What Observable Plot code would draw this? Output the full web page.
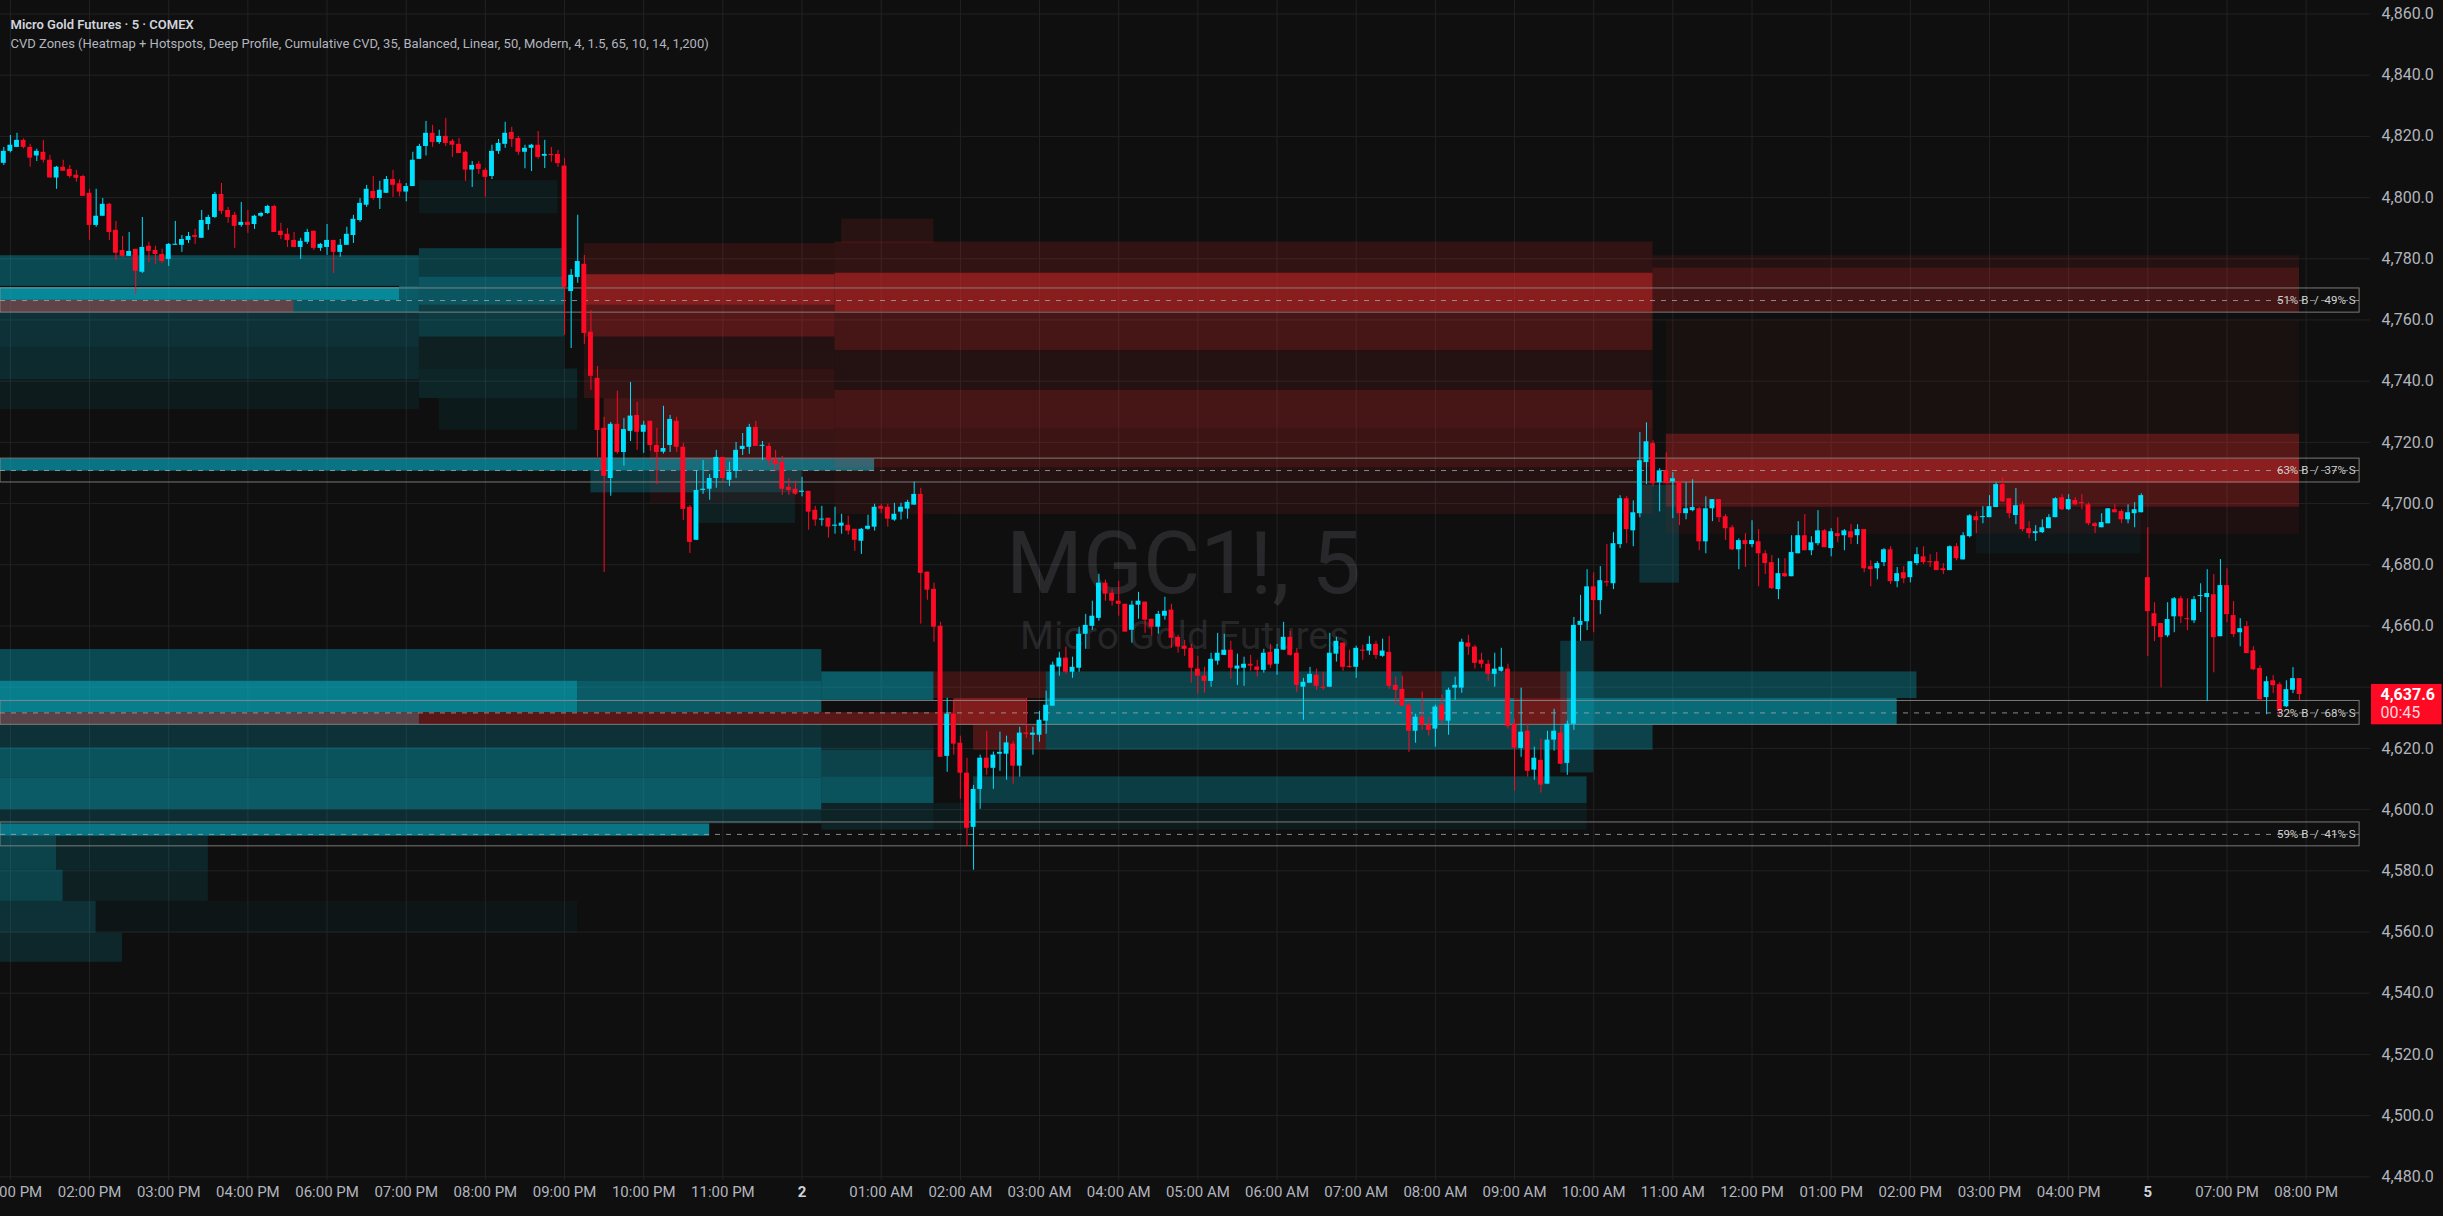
<!DOCTYPE html>
<html>
<head>
<meta charset="utf-8">
<script src="https://cdn.jsdelivr.net/npm/d3@7"></script>
<script src="https://cdn.jsdelivr.net/npm/@observablehq/plot@0.6"></script>
<style>
  html, body { margin: 0; padding: 0; background: #0f0f0f; overflow: hidden; }
  #chart svg { display: block; }
</style>
</head>
<body>
<div id="chart"></div>
<script>
// MGC1! 5-minute bars, indexed by bar number (session breaks already removed)
const open = [
  4811.2, 4815.1, 4816.4, 4818.7, 4816.4, 4813.6, 4814.8, 4812.2, 4806.4, 4809.9,
  4809.2, 4807.3, 4806.9, 4801.4, 4790.9, 4793.9, 4797.8, 4789.3, 4782.7, 4780.8,
  4783.1, 4775.6, 4784.1, 4782.7, 4781.4, 4779.8, 4784.4, 4784.4, 4786.0, 4787.6,
  4786.7, 4791.2, 4793.5, 4801.0, 4795.8, 4794.2, 4790.9, 4791.9, 4791.2, 4793.9,
  4794.8, 4797.1, 4789.0, 4788.0, 4786.0, 4783.7, 4785.4, 4789.0, 4783.4, 4783.7,
  4786.0, 4782.1, 4784.4, 4787.6, 4792.5, 4797.5, 4802.0, 4799.7, 4801.4, 4805.9,
  4804.5, 4801.8, 4803.6, 4812.5, 4816.7, 4821.0, 4818.0, 4820.0, 4818.4, 4817.4,
  4814.8, 4809.0, 4810.9, 4808.9, 4806.9, 4815.1, 4817.4, 4821.3, 4819.3, 4814.8,
  4816.1, 4817.1, 4813.5, 4814.1, 4814.1, 4810.3, 4769.3, 4773.9, 4778.2, 4756.0,
  4740.9, 4724.6, 4708.2, 4725.9, 4716.7, 4723.6, 4728.8, 4723.3, 4726.9, 4719.0,
  4716.8, 4719.0, 4726.9, 4718.4, 4698.8, 4688.0, 4704.3, 4704.7, 4708.2, 4715.1,
  4707.6, 4710.5, 4717.7, 4718.4, 4724.9, 4718.7, 4718.7, 4714.4, 4713.5, 4705.3,
  4704.7, 4703.7, 4704.0, 4697.8, 4694.6, 4695.2, 4692.6, 4692.6, 4692.9, 4691.6,
  4687.7, 4691.6, 4692.3, 4699.1, 4698.8, 4694.6, 4697.2, 4698.2, 4699.5, 4703.0,
  4677.6, 4672.0, 4659.9, 4617.4, 4631.2, 4621.7, 4611.9, 4594.2, 4606.6, 4616.8,
  4613.5, 4618.1, 4618.1, 4621.4, 4614.2, 4625.0, 4624.3, 4624.3, 4628.9, 4633.8,
  4646.6, 4649.5, 4644.9, 4646.2, 4657.3, 4659.9, 4662.5, 4674.0, 4670.7, 4668.1,
  4667.1, 4658.6, 4666.8, 4667.8, 4662.2, 4659.6, 4663.2, 4665.2, 4656.3, 4653.4,
  4652.7, 4645.9, 4643.6, 4641.9, 4648.5, 4650.4, 4652.1, 4645.9, 4646.2, 4647.5,
  4646.6, 4645.5, 4651.4, 4647.5, 4652.1, 4656.3, 4651.1, 4640.0, 4641.3, 4643.9,
  4640.0, 4640.0, 4650.8, 4654.4, 4646.8, 4646.5, 4652.1, 4651.8, 4654.0, 4650.1,
  4651.4, 4640.6, 4639.3, 4634.1, 4625.6, 4630.2, 4627.6, 4626.3, 4634.1, 4628.9,
  4639.7, 4639.7, 4654.4, 4653.1, 4648.8, 4647.5, 4644.2, 4645.2, 4645.9, 4627.9,
  4620.0, 4625.6, 4612.9, 4616.1, 4608.3, 4622.7, 4625.0, 4615.1, 4627.9, 4660.2,
  4661.4, 4672.8, 4668.3, 4674.5, 4673.8, 4686.6, 4701.6, 4691.1, 4696.7, 4713.4,
  4719.6, 4706.8, 4710.7, 4707.1, 4707.1, 4696.7, 4697.7, 4698.3, 4687.5, 4698.3,
  4701.3, 4695.7, 4692.1, 4684.9, 4687.9, 4686.6, 4687.5, 4683.6, 4680.7, 4671.9,
  4677.1, 4676.1, 4683.6, 4689.5, 4684.6, 4686.9, 4691.1, 4685.3, 4690.2, 4689.5,
  4690.8, 4689.5, 4691.5, 4679.4, 4678.7, 4680.7, 4684.9, 4674.5, 4677.4, 4675.8,
  4680.4, 4682.6, 4681.0, 4681.0, 4678.7, 4678.1, 4685.9, 4681.6, 4689.2, 4695.7,
  4695.4, 4695.4, 4698.7, 4706.2, 4701.6, 4696.1, 4699.6, 4691.8, 4690.2, 4690.5,
  4691.8, 4695.4, 4701.9, 4698.0, 4701.0, 4700.3, 4699.6, 4693.4, 4692.1, 4693.4,
  4698.0, 4697.4, 4694.7, 4696.7, 4697.0, 4675.8, 4664.0, 4660.8, 4656.8, 4663.0,
  4668.9, 4662.4, 4661.7, 4669.6, 4669.3, 4670.2, 4656.5, 4673.2, 4663.4, 4657.8,
  4659.8, 4651.9, 4646.1, 4636.6, 4642.1, 4640.8, 4633.6, 4639.0, 4642.8
];
const high = [
  4816.4, 4820.3, 4821.0, 4819.2, 4817.4, 4815.8, 4818.7, 4813.8, 4810.2, 4812.2,
  4810.5, 4808.9, 4807.3, 4802.7, 4802.7, 4799.7, 4798.1, 4792.2, 4787.3, 4788.6,
  4783.1, 4793.5, 4785.4, 4784.1, 4783.1, 4785.0, 4792.2, 4787.6, 4788.6, 4789.6,
  4795.8, 4794.2, 4801.7, 4804.6, 4796.8, 4795.2, 4798.4, 4795.8, 4794.2, 4795.2,
  4797.5, 4797.5, 4791.6, 4789.9, 4788.6, 4786.7, 4789.6, 4789.0, 4785.0, 4791.2,
  4786.0, 4786.3, 4790.3, 4794.2, 4799.7, 4804.0, 4806.9, 4805.3, 4806.9, 4808.9,
  4805.8, 4804.6, 4814.8, 4817.4, 4824.9, 4823.6, 4822.0, 4825.9, 4819.0, 4819.3,
  4815.1, 4811.8, 4811.8, 4809.6, 4817.1, 4819.0, 4824.6, 4823.0, 4820.0, 4817.1,
  4817.4, 4821.6, 4818.7, 4816.4, 4815.4, 4812.8, 4776.5, 4794.2, 4781.1, 4763.1,
  4744.8, 4728.2, 4726.5, 4736.7, 4727.8, 4739.6, 4733.1, 4726.9, 4726.9, 4724.6,
  4731.8, 4728.8, 4728.2, 4719.7, 4699.4, 4710.8, 4714.1, 4709.5, 4717.4, 4715.1,
  4713.5, 4720.0, 4722.9, 4725.9, 4726.9, 4720.3, 4719.7, 4717.4, 4715.4, 4708.2,
  4707.3, 4708.6, 4704.0, 4699.1, 4699.1, 4695.2, 4698.8, 4696.5, 4695.9, 4691.6,
  4691.9, 4696.2, 4699.8, 4699.8, 4699.8, 4700.1, 4700.1, 4701.1, 4707.0, 4705.0,
  4677.6, 4674.0, 4661.2, 4636.4, 4635.4, 4624.0, 4616.8, 4607.9, 4617.8, 4625.6,
  4618.8, 4625.3, 4624.0, 4622.3, 4626.9, 4636.4, 4626.9, 4632.1, 4638.7, 4648.2,
  4651.4, 4653.1, 4649.8, 4659.6, 4663.8, 4668.1, 4676.9, 4675.0, 4672.0, 4674.6,
  4667.1, 4668.1, 4671.0, 4667.8, 4662.2, 4664.8, 4669.4, 4667.1, 4657.0, 4655.3,
  4654.0, 4650.1, 4646.5, 4651.1, 4657.6, 4657.3, 4655.0, 4650.8, 4649.8, 4650.4,
  4648.8, 4652.4, 4654.0, 4654.0, 4661.2, 4658.3, 4652.7, 4642.9, 4646.5, 4645.9,
  4644.9, 4657.6, 4656.3, 4654.4, 4652.1, 4653.4, 4653.7, 4656.6, 4655.0, 4655.7,
  4656.6, 4643.3, 4643.6, 4634.8, 4631.2, 4638.4, 4630.2, 4634.1, 4637.4, 4639.7,
  4643.3, 4655.7, 4657.0, 4653.7, 4651.1, 4648.8, 4651.1, 4652.7, 4647.5, 4629.5,
  4639.7, 4627.9, 4620.4, 4623.0, 4625.6, 4632.8, 4627.2, 4628.9, 4662.8, 4670.0,
  4678.4, 4677.4, 4679.4, 4686.6, 4690.5, 4702.6, 4702.3, 4700.9, 4723.2, 4726.4,
  4720.5, 4711.4, 4716.6, 4710.1, 4707.1, 4706.8, 4707.8, 4698.7, 4702.2, 4701.3,
  4701.3, 4696.4, 4692.8, 4688.5, 4690.2, 4694.4, 4691.5, 4684.6, 4683.0, 4682.0,
  4682.0, 4689.5, 4694.1, 4696.4, 4689.2, 4697.7, 4691.5, 4691.8, 4695.4, 4691.5,
  4693.1, 4693.1, 4691.5, 4681.3, 4681.0, 4685.3, 4685.9, 4679.1, 4679.4, 4681.0,
  4685.6, 4685.9, 4683.3, 4684.0, 4680.4, 4686.2, 4686.9, 4690.5, 4696.4, 4697.3,
  4699.0, 4702.6, 4706.8, 4708.5, 4701.6, 4704.9, 4700.6, 4694.1, 4692.8, 4694.7,
  4696.4, 4701.9, 4702.9, 4702.9, 4701.9, 4702.9, 4700.3, 4693.8, 4696.7, 4698.3,
  4699.6, 4698.0, 4699.6, 4700.3, 4703.2, 4692.1, 4667.6, 4660.8, 4667.6, 4669.3,
  4669.6, 4668.9, 4669.6, 4673.8, 4678.4, 4676.8, 4681.7, 4678.7, 4668.0, 4662.4,
  4661.4, 4653.2, 4647.0, 4643.4, 4643.8, 4641.5, 4642.1, 4646.4, 4642.8
];
const low = [
  4810.5, 4814.6, 4816.4, 4815.9, 4809.9, 4811.8, 4811.3, 4806.4, 4802.7, 4808.6,
  4806.3, 4805.0, 4800.4, 4786.0, 4790.3, 4793.9, 4786.0, 4779.5, 4780.5, 4780.8,
  4768.4, 4775.2, 4778.8, 4778.2, 4778.5, 4777.5, 4784.4, 4782.1, 4785.0, 4784.7,
  4786.7, 4789.3, 4793.2, 4794.5, 4791.6, 4783.4, 4790.3, 4788.3, 4789.6, 4793.5,
  4794.5, 4788.6, 4786.3, 4783.7, 4783.7, 4779.8, 4784.7, 4782.7, 4782.4, 4781.1,
  4775.2, 4780.5, 4784.4, 4785.0, 4791.9, 4796.8, 4799.1, 4796.1, 4801.4, 4800.0,
  4800.2, 4798.6, 4803.6, 4812.5, 4813.6, 4816.4, 4817.4, 4816.7, 4813.1, 4814.4,
  4805.3, 4803.3, 4807.6, 4800.1, 4805.9, 4814.1, 4816.1, 4816.4, 4813.8, 4809.4,
  4808.5, 4812.5, 4809.5, 4811.5, 4809.9, 4755.0, 4750.7, 4772.0, 4752.0, 4737.0,
  4715.1, 4677.5, 4702.4, 4716.1, 4712.2, 4720.3, 4717.4, 4716.4, 4717.1, 4706.3,
  4716.2, 4716.7, 4716.7, 4694.5, 4683.7, 4688.0, 4703.0, 4701.1, 4705.0, 4707.0,
  4705.6, 4708.2, 4715.7, 4716.1, 4718.7, 4714.1, 4712.2, 4710.5, 4702.7, 4702.7,
  4702.7, 4702.2, 4691.3, 4692.6, 4692.6, 4688.7, 4690.0, 4690.0, 4689.7, 4684.4,
  4683.4, 4691.3, 4691.0, 4696.8, 4692.3, 4694.2, 4694.6, 4694.9, 4699.5, 4660.6,
  4668.4, 4654.7, 4617.1, 4612.2, 4617.8, 4603.4, 4588.0, 4580.2, 4600.1, 4611.2,
  4606.6, 4612.5, 4609.6, 4608.3, 4610.6, 4623.3, 4617.8, 4622.0, 4624.6, 4633.8,
  4643.6, 4644.2, 4642.9, 4644.9, 4652.4, 4658.6, 4661.6, 4668.1, 4666.5, 4663.2,
  4658.0, 4654.4, 4662.2, 4657.6, 4656.7, 4657.3, 4661.9, 4652.7, 4651.1, 4650.1,
  4641.3, 4637.7, 4638.0, 4640.0, 4647.2, 4650.4, 4642.6, 4640.6, 4640.3, 4645.2,
  4643.3, 4644.6, 4646.2, 4643.9, 4652.1, 4650.1, 4638.3, 4629.2, 4641.3, 4639.0,
  4639.0, 4640.0, 4648.2, 4645.2, 4646.2, 4642.9, 4648.8, 4650.4, 4649.1, 4649.8,
  4639.3, 4634.1, 4633.8, 4618.7, 4621.7, 4625.9, 4624.0, 4620.4, 4627.9, 4624.3,
  4635.7, 4638.0, 4650.4, 4645.9, 4646.2, 4641.9, 4640.0, 4644.9, 4626.3, 4606.0,
  4617.1, 4610.6, 4609.6, 4605.4, 4608.3, 4619.1, 4614.8, 4611.2, 4625.9, 4655.0,
  4658.5, 4657.8, 4663.7, 4672.8, 4671.9, 4685.3, 4686.9, 4685.9, 4695.4, 4706.2,
  4705.5, 4697.3, 4706.5, 4695.1, 4692.8, 4694.7, 4697.3, 4684.6, 4683.6, 4694.1,
  4693.8, 4687.9, 4684.6, 4678.4, 4679.1, 4685.6, 4672.8, 4676.8, 4671.9, 4668.6,
  4675.8, 4676.1, 4683.6, 4684.6, 4683.0, 4686.2, 4685.6, 4682.6, 4687.2, 4684.6,
  4686.6, 4686.6, 4677.4, 4672.8, 4675.1, 4679.4, 4673.5, 4672.5, 4673.8, 4674.1,
  4679.7, 4680.1, 4679.1, 4678.1, 4676.8, 4678.1, 4681.3, 4681.6, 4688.8, 4690.2,
  4693.4, 4695.4, 4698.7, 4700.3, 4695.1, 4693.1, 4690.8, 4688.5, 4687.6, 4690.2,
  4691.8, 4695.4, 4697.7, 4697.7, 4699.3, 4698.0, 4692.8, 4690.2, 4692.1, 4693.4,
  4697.0, 4693.4, 4693.4, 4692.1, 4697.0, 4650.0, 4654.9, 4639.8, 4656.2, 4657.8,
  4660.8, 4658.5, 4660.8, 4664.4, 4635.3, 4644.7, 4656.5, 4661.1, 4656.2, 4653.2,
  4651.0, 4645.4, 4635.3, 4631.0, 4637.9, 4630.4, 4633.3, 4637.9, 4635.6
];
const close = [
  4815.1, 4817.1, 4818.7, 4816.4, 4812.9, 4815.1, 4812.2, 4806.4, 4809.9, 4808.6,
  4806.9, 4806.3, 4800.4, 4790.9, 4793.9, 4797.8, 4788.6, 4781.8, 4780.8, 4782.4,
  4775.9, 4783.7, 4782.4, 4781.4, 4779.1, 4784.7, 4784.7, 4786.3, 4787.3, 4787.0,
  4792.5, 4793.5, 4801.0, 4795.5, 4793.5, 4790.6, 4791.9, 4790.9, 4793.9, 4794.8,
  4797.1, 4788.6, 4787.6, 4786.0, 4783.7, 4785.7, 4788.6, 4783.4, 4784.7, 4786.0,
  4782.1, 4784.4, 4788.0, 4792.9, 4798.1, 4802.7, 4799.7, 4802.4, 4805.9, 4804.0,
  4801.8, 4803.6, 4812.2, 4816.7, 4821.0, 4818.0, 4820.0, 4817.7, 4817.1, 4814.4,
  4809.0, 4810.5, 4809.2, 4806.6, 4815.1, 4817.7, 4821.0, 4819.0, 4814.8, 4816.1,
  4817.1, 4813.1, 4814.1, 4813.8, 4811.1, 4770.7, 4774.6, 4779.1, 4755.6, 4741.6,
  4723.9, 4708.9, 4725.9, 4716.7, 4724.2, 4728.6, 4723.3, 4725.6, 4719.0, 4716.7,
  4718.0, 4727.5, 4718.4, 4698.1, 4687.3, 4704.3, 4704.7, 4708.2, 4715.1, 4708.2,
  4710.2, 4717.4, 4718.7, 4724.9, 4718.7, 4719.0, 4714.1, 4712.8, 4704.7, 4704.3,
  4703.1, 4703.8, 4697.2, 4694.6, 4694.9, 4692.3, 4692.9, 4693.6, 4691.0, 4688.0,
  4691.6, 4692.6, 4698.8, 4698.2, 4694.9, 4696.5, 4698.8, 4700.4, 4703.0, 4677.2,
  4671.7, 4659.6, 4617.1, 4631.2, 4621.4, 4611.9, 4593.9, 4606.6, 4616.8, 4613.5,
  4617.8, 4618.7, 4621.8, 4614.2, 4625.0, 4624.6, 4625.0, 4629.2, 4634.1, 4647.2,
  4649.5, 4644.9, 4646.5, 4657.3, 4660.2, 4663.2, 4674.0, 4670.4, 4668.1, 4667.1,
  4658.0, 4666.8, 4668.1, 4661.9, 4659.6, 4663.8, 4664.8, 4656.0, 4653.1, 4652.4,
  4646.2, 4643.6, 4641.9, 4649.1, 4651.1, 4652.1, 4646.2, 4646.9, 4647.5, 4646.9,
  4645.5, 4651.1, 4647.2, 4652.4, 4656.3, 4650.4, 4640.6, 4641.6, 4644.2, 4640.3,
  4639.7, 4651.1, 4655.0, 4646.5, 4646.5, 4652.7, 4651.8, 4654.0, 4650.4, 4651.8,
  4640.3, 4639.0, 4633.8, 4625.6, 4630.2, 4627.6, 4625.9, 4633.5, 4629.2, 4639.0,
  4640.6, 4654.7, 4653.1, 4647.8, 4647.5, 4644.2, 4645.9, 4646.5, 4627.2, 4620.1,
  4625.3, 4612.5, 4616.8, 4608.0, 4622.7, 4625.6, 4614.8, 4627.9, 4660.2, 4661.5,
  4672.8, 4668.3, 4674.8, 4674.1, 4686.9, 4701.6, 4691.5, 4697.0, 4714.0, 4720.2,
  4706.5, 4710.7, 4706.5, 4708.1, 4696.7, 4698.3, 4698.7, 4687.5, 4698.3, 4701.3,
  4695.4, 4691.8, 4684.9, 4687.9, 4686.6, 4687.9, 4683.6, 4680.4, 4672.2, 4677.1,
  4676.1, 4684.0, 4689.5, 4684.6, 4687.2, 4691.1, 4685.6, 4690.8, 4689.2, 4691.1,
  4688.8, 4691.5, 4678.7, 4678.4, 4680.4, 4684.9, 4674.5, 4677.1, 4675.4, 4681.0,
  4683.3, 4680.7, 4680.7, 4678.1, 4678.1, 4685.9, 4682.0, 4689.5, 4696.0, 4694.4,
  4695.6, 4699.0, 4706.2, 4700.6, 4696.7, 4699.3, 4691.5, 4690.2, 4690.8, 4692.1,
  4695.4, 4701.6, 4698.0, 4701.3, 4699.6, 4700.1, 4693.4, 4692.5, 4693.8, 4698.3,
  4697.0, 4694.7, 4697.0, 4698.0, 4702.6, 4664.7, 4659.8, 4656.2, 4662.1, 4668.9,
  4663.0, 4662.1, 4668.6, 4669.9, 4670.6, 4656.2, 4673.2, 4663.7, 4657.2, 4659.1,
  4651.0, 4645.7, 4635.9, 4641.8, 4640.5, 4632.3, 4639.2, 4642.8, 4637.6
];

// time axis: bar index of each hour mark and its label
const timeTicks = [1, 13, 25, 37, 49, 61, 73, 85, 97, 109, 121, 133, 145, 157, 169, 181, 193, 205,
  217, 229, 241, 253, 265, 277, 289, 301, 313, 325, 337, 349];
const timeLabels = ["01:00 PM", "02:00 PM", "03:00 PM", "04:00 PM", "06:00 PM", "07:00 PM", "08:00 PM",
  "09:00 PM", "10:00 PM", "11:00 PM", "2", "01:00 AM", "02:00 AM", "03:00 AM", "04:00 AM", "05:00 AM",
  "06:00 AM", "07:00 AM", "08:00 AM", "09:00 AM", "10:00 AM", "11:00 AM", "12:00 PM", "01:00 PM",
  "02:00 PM", "03:00 PM", "04:00 PM", "5", "07:00 PM", "08:00 PM"];
const dayLabels = ["2", "5"];
const priceTicks = d3.range(4480, 4861, 20);

// CVD heatmap cells: [fromBar, toBar, priceLow, priceHigh, heat]
const buyZones = [
  [-1, 63, 4771, 4781, 0.35], [-1, 60, 4766.4, 4770.6, 0.72], [60, 63, 4766.4, 4771, 0.45],
  [-1, 63, 4762.4, 4766.4, 0.42], [-1, 63, 4751, 4762.4, 0.2], [-1, 63, 4740.5, 4751, 0.17],
  [-1, 63, 4730.7, 4740.5, 0.08],
  [63, 85, 4774, 4783.3, 0.27], [63, 85, 4764.8, 4774, 0.42], [63, 85, 4754.4, 4764.8, 0.26],
  [63, 85, 4744, 4754.4, 0.1], [63, 87, 4734.3, 4744, 0.13], [66, 87, 4724, 4734.3, 0.07],
  [63, 84, 4794.7, 4805.5, 0.08],
  [-1, 132, 4710.6, 4714.6, 0.6], [89, 121, 4703.5, 4710.6, 0.25], [105, 120, 4693.5, 4703.5, 0.1],
  [-1, 124, 4642, 4652.3, 0.35], [-1, 87, 4631.7, 4642, 0.65], [87, 124, 4631.7, 4642, 0.45],
  [-1, 63, 4627.8, 4631.7, 0.4], [-1, 124, 4620.2, 4627.8, 0.2], [-1, 124, 4610.3, 4620.2, 0.4],
  [-1, 124, 4600, 4610.3, 0.45], [-1, 124, 4595.3, 4600, 0.18], [-1, 107, 4591.3, 4595.3, 0.6],
  [-1, 8, 4580.2, 4591.3, 0.3], [8, 31, 4580.2, 4591.3, 0.14], [-1, 9, 4570, 4580.2, 0.3],
  [9, 31, 4570, 4580.2, 0.1], [-1, 14, 4559.6, 4570, 0.2], [14, 87, 4559.6, 4570, 0.04],
  [-1, 18, 4550.1, 4559.6, 0.15],
  [124, 141, 4635.7, 4645, 0.45], [124, 141, 4619.4, 4627.6, 0.15], [124, 141, 4610.7, 4619.4, 0.3],
  [124, 141, 4602, 4610.7, 0.4], [124, 141, 4593.3, 4602, 0.12],
  [158, 212, 4636.3, 4645, 0.3], [218, 228, 4636.3, 4645, 0.3], [237, 290, 4636.3, 4645, 0.3],
  [158, 229, 4627.6, 4636.3, 0.55], [237, 287, 4627.6, 4636.3, 0.55], [158, 250, 4619.4, 4627.6, 0.3],
  [147, 240, 4602, 4610.7, 0.28], [141, 240, 4593.3, 4602, 0.08], [236, 241, 4612, 4655, 0.22],
  [248, 254, 4674, 4706, 0.2], [299, 324, 4683.5, 4698, 0.05]
];
const sellZones = [
  [-1, 44, 4762.4, 4766.4, 0.4], [-1, 144, 4627.8, 4631.7, 0.36],
  [88, 126, 4774.8, 4785, 0.15], [88, 126, 4764.8, 4774.8, 0.58], [88, 126, 4754.4, 4764.8, 0.34],
  [88, 126, 4744, 4754.4, 0.1], [88, 126, 4734.3, 4744, 0.17], [91, 126, 4724, 4734.3, 0.27],
  [98, 126, 4714, 4724, 0.2], [98, 126, 4700, 4714, 0.08],
  [127, 141, 4785, 4793, 0.12], [126, 250, 4775.3, 4785.5, 0.17], [126, 250, 4762.6, 4775.3, 0.58],
  [126, 250, 4750, 4762.6, 0.27], [126, 250, 4737, 4750, 0.1], [126, 250, 4724.4, 4737, 0.27],
  [126, 250, 4711.7, 4724.4, 0.22], [126, 250, 4696.4, 4711.7, 0.1],
  [141, 158, 4636.3, 4645, 0.22], [144, 155, 4627.6, 4636.3, 0.55], [147, 158, 4619.4, 4627.6, 0.3],
  [212, 218, 4636.3, 4645, 0.22], [228, 237, 4636.3, 4645, 0.24], [229, 237, 4627.6, 4636.3, 0.45],
  [250, 348, 4777, 4781, 0.1], [250, 348, 4762.4, 4777, 0.25], [252, 348, 4722.7, 4760, 0.05],
  [252, 348, 4714.6, 4722.7, 0.35], [252, 348, 4706.6, 4714.6, 0.6], [252, 348, 4698.8, 4706.6, 0.3],
  [252, 348, 4690, 4698.8, 0.08]
];

// hotspot boxes
const hotLow = [4762.4, 4706.9, 4627.7, 4588.0];
const hotHigh = [4770.3, 4714.7, 4635.5, 4595.8];
const hotBuy = [51, 63, 32, 59];
const hotSell = [49, 37, 68, 41];

const lastPrice = 4637.6;
const countdown = "00:45";

const UP = "#00e1ff", DOWN = "#ff0a24";
const teal = a => `rgba(5,184,208,${a})`;
const red = a => `rgba(222,40,40,${a})`;

const bars = open.map((o, i) => ({i, o, h: high[i], l: low[i], c: close[i], up: close[i] >= o}));
const cells = [
  ...buyZones.map(([x1, x2, lo, hi, heat]) => ({x1, x2, lo, hi, fill: teal(heat)})),
  ...sellZones.map(([x1, x2, lo, hi, heat]) => ({x1, x2, lo, hi, fill: red(heat)}))
];
const hot = hotLow.map((lo, k) => ({lo, hi: hotHigh[k], mid: (lo + hotHigh[k]) / 2,
  label: `${hotBuy[k]}% B \u00a0/\u00a0 ${hotSell[k]}% S`}));
const boxEnd = 357.1;
// the last-price tag hides the tick label it sits on
const axisTicks = priceTicks.filter(p => Math.abs(p - lastPrice) > 6);

const chart = Plot.plot({
  width: 2443,
  height: 1216,
  marginTop: 0,
  marginRight: 73,
  marginBottom: 36,
  marginLeft: 0,
  style: {background: "#0f0f0f", color: "#b2b5be", fontFamily: "Roboto, 'Noto Sans', sans-serif"},
  x: {domain: [-0.5, 358.75], axis: null},
  y: {domain: [4478.8, 4864.4], axis: null},
  marks: [
    Plot.ruleY(priceTicks, {y: d => d, stroke: "#222224"}),
    Plot.ruleX(timeTicks, {x: d => d, stroke: "#222224"}),
    Plot.rect(cells, {x1: "x1", x2: "x2", y1: "lo", y2: "hi", fill: "fill"}),
    Plot.text(["MGC1!, 5"], {frameAnchor: "middle", dx: -2, dy: -26, fontSize: 88,
      fill: "rgba(200,200,220,0.14)"}),
    Plot.text(["Micro Gold Futures"], {frameAnchor: "middle", dx: -1, dy: 46, fontSize: 39,
      fill: "rgba(200,200,220,0.14)"}),
    Plot.rect(hot, {x1: () => -0.5, x2: () => boxEnd, y1: "lo", y2: "hi", fill: "none",
      stroke: "#8c8c8c", strokeOpacity: 0.85}),
    Plot.ruleY(hot, {y: "mid", x1: () => -0.5, x2: () => boxEnd, stroke: "#a8a8a8",
      strokeOpacity: 0.8, strokeDasharray: "5,6"}),
    Plot.ruleX(bars, {x: "i", y1: "l", y2: "h", stroke: d => d.up ? UP : DOWN, strokeWidth: 1}),
    Plot.rect(bars, {
      x1: d => d.i - 0.37, x2: d => d.i + 0.37, y1: "o",
      y2: d => Math.abs(d.c - d.o) < 0.35 ? d.o + (d.up ? 0.35 : -0.35) : d.c,
      fill: d => d.up ? UP : DOWN
    }),
    Plot.text(hot, {y: "mid", text: "label", frameAnchor: "right", dx: -15, textAnchor: "end",
      fontSize: 11.5, fill: "#d0d0d0"}),
    Plot.text(["Micro Gold Futures · 5 · COMEX"], {frameAnchor: "top-left", dx: 10, dy: 19,
      textAnchor: "start", fontSize: 13, fontWeight: 600, fill: "#d1d4dc"}),
    Plot.text(["CVD Zones (Heatmap + Hotspots, Deep Profile, Cumulative CVD, 35, Balanced, Linear, 50, Modern, 4, 1.5, 65, 10, 14, 1,200)"],
      {frameAnchor: "top-left", dx: 10, dy: 38, textAnchor: "start", fontSize: 13, fill: "#b2b5be"}),
    Plot.text(timeTicks.filter((t, k) => !dayLabels.includes(timeLabels[k])), {
      x: d => d, text: d => timeLabels[timeTicks.indexOf(d)], frameAnchor: "bottom", dy: 16,
      fontSize: 15, fill: "#b2b5be"}),
    Plot.text(timeTicks.filter((t, k) => dayLabels.includes(timeLabels[k])), {
      x: d => d, text: d => timeLabels[timeTicks.indexOf(d)], frameAnchor: "bottom", dy: 16,
      fontSize: 15, fontWeight: "bold", fill: "#d1d4dc"}),
    Plot.text(axisTicks, {y: d => d, text: d3.format(",.1f"), frameAnchor: "right", dx: 11,
      textAnchor: "start", fontSize: 16, fill: "#b2b5be"}),
    Plot.rect([lastPrice], {x1: () => 358.9, x2: () => 369.6, y1: d => d - 9.9, y2: d => d + 3.3,
      fill: "#ff0a24"}),
    Plot.text([lastPrice], {y: d => d, text: d3.format(",.1f"), frameAnchor: "right", dx: 10,
      textAnchor: "start", fontSize: 16, fontWeight: "bold", fill: "#ffffff"}),
    Plot.text([lastPrice], {y: d => d - 6, text: () => countdown, frameAnchor: "right", dx: 10,
      textAnchor: "start", fontSize: 16, fill: "rgba(255,255,255,0.85)"})
  ]
});

document.getElementById("chart").append(chart);
</script>
</body>
</html>
